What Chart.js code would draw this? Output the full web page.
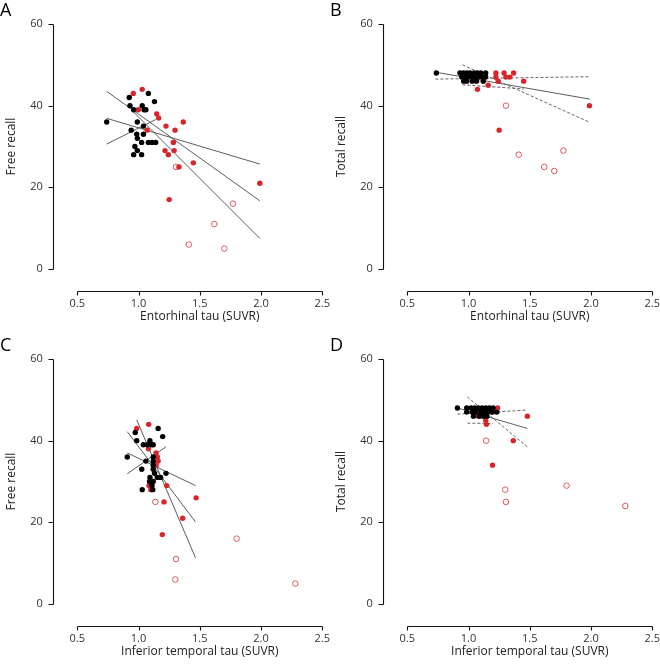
<!DOCTYPE html>
<html>
<head>
<meta charset="utf-8">
<script src="https://cdn.jsdelivr.net/npm/chart.js@4.4.1/dist/chart.umd.min.js"></script>
<style>
  body { margin: 0; background: #fff; }
  #wrap { position: relative; width: 660px; height: 665px; }
  canvas { position: absolute; }
</style>
</head>
<body>
<div id="wrap">
  <canvas id="cA" width="330" height="332" style="left:0;top:0"></canvas>
  <canvas id="cB" width="330" height="332" style="left:330px;top:0"></canvas>
  <canvas id="cC" width="330" height="332" style="left:0;top:335px"></canvas>
  <canvas id="cD" width="330" height="332" style="left:330px;top:335px"></canvas>
</div>
<script>
// 軸の目盛り
const xTicks = [0.5, 1.0, 1.5, 2.0, 2.5];
const yTicks = [0, 20, 40, 60];

// A: Entorhinal tau vs Free recall
const aBlack = [[0.74,36],[0.924,42],[1.08,43],[1.13,41],[0.93,40],[0.96,39],[1.03,40],[1.045,39],[1.06,39],
  [0.99,36],[1.04,35],[0.94,34],[0.985,33],[1.04,33],[0.99,32],[1.025,31],[1.08,31],[1.11,31],[1.14,31],
  [0.97,30],[0.99,29],[0.96,28],[1.025,28]];
const aRed = [[1.03,44],[0.957,43],[0.998,39],[1.148,38],[1.164,37],[1.365,36],[1.224,35],[1.298,34],[1.071,34],
  [1.284,31],[1.216,29],[1.29,29],[1.243,28],[1.447,26],[1.33,25],[1.25,17],[1.99,21]];
const aOpen = [[1.305,25],[1.771,16],[1.618,11],[1.41,6],[1.70,5]];
const aFitAll = [[0.74,43.5],[1.99,16.7]];
const aFitFilled = [[0.74,36.9],[1.99,25.7]];
const aFitRed = [[0.957,38.5],[1.99,7.5]];
const aFitBlack = [[0.74,30.6],[1.14,36.6]];

// B: Entorhinal tau vs Total recall
const bBlack = [[0.737,48],[0.93,48],[0.958,48],[0.985,48],[1.012,48],[1.045,48],[1.072,48],[1.1,48],[1.14,48],
  [0.945,47],[0.995,47],[1.045,47],[1.11,47],[1.14,47],[0.97,47],[1.02,47],[1.08,47],
  [0.985,46],[1.065,46],[1.03,46],[0.96,46],[1.12,46]];
const bRed = [[1.223,48],[1.29,48],[1.368,48],[1.223,47],[1.305,47],[1.337,47],[1.242,46],[1.16,45],
  [1.073,44],[1.45,46],[1.25,34],[1.987,40]];
const bOpen = [[1.305,40],[1.41,28],[1.774,29],[1.618,25],[1.70,24]];
const bFitAll = [[0.73,48.2],[1.99,41.6]];
const bFitFilled = [[0.73,46.5],[1.99,47.1]];
const bFitRed = [[0.95,50.0],[1.99,35.9]];
const bFitRedFilled = [[0.95,45.1],[1.45,44.1]];

// C: Inferior temporal tau vs Free recall
const cBlack = [[1.16,43],[0.973,42],[1.197,41],[0.985,40],[1.093,40],[1.107,39],[1.071,39],[1.039,39],[1.12,39],
  [0.908,36],[1.06,35],[1.026,33],[1.12,36],[1.12,35],[1.12,34],[1.12,33],[1.13,32],[1.224,32],
  [1.093,31],[1.153,31],[1.18,31],[1.09,30],[1.12,30],[1.03,28],[1.116,28],[1.11,29]];
const cRed = [[1.083,44],[0.985,43],[1.08,38],[1.143,37],[1.153,36],[1.16,35],[1.143,34],[1.23,29],
  [1.085,29],[1.47,26],[1.208,25],[1.36,21],[1.194,17],[1.10,28]];
const cOpen = [[1.137,25],[1.80,16],[1.306,11],[1.30,6],[2.28,5]];
const cFitAll = [[0.908,42.2],[1.465,20.1]];
const cFitFilled = [[0.908,37.0],[1.465,29.0]];
const cFitRed = [[0.985,45.1],[1.465,11.3]];
const cFitBlack = [[0.908,31.9],[1.224,38.5]];

// D: Inferior temporal tau vs Total recall
const dBlack = [[0.909,48],[0.985,48],[0.985,47],[1.02,48],[1.05,48],[1.08,48],[1.11,48],[1.14,48],[1.17,48],
  [1.2,48],[1.03,47],[1.06,47],[1.1,47],[1.13,47],[1.16,47],[1.231,47],[1.04,46],[1.09,46],[1.122,46],
  [1.15,46],[1.19,47]];
const dRed = [[1.237,48],[1.078,46],[1.14,45],[1.146,44],[1.365,40],[1.196,34],[1.48,46],[1.2,47]];
const dOpen = [[1.143,40],[1.3,28],[1.305,25],[1.8,29],[2.28,24]];
const dFitAll = [[0.91,48.0],[1.48,43.0]];
const dFitFilled = [[0.91,46.5],[1.48,47.5]];
const dFitRed = [[0.99,50.7],[1.48,38.5]];
const dFitRedFilled = [[0.99,44.3],[1.2,44.2]];

const FONT = "'Open Sans', 'DejaVu Sans', sans-serif";

// R風の離れた軸線
const rAxes = {
  id: 'rAxes',
  afterDraw(chart) {
    const {ctx, chartArea} = chart;
    const x = chart.scales.x, y = chart.scales.y;
    const ax = Math.round(chartArea.left - 24) + 0.5;
    const ay = Math.round(chartArea.bottom + 22) + 0.5;
    ctx.save();
    ctx.strokeStyle = '#111';
    ctx.lineWidth = 1.1;
    ctx.beginPath();
    ctx.moveTo(ax, Math.round(y.getPixelForValue(yTicks[0])) + 0.5);
    ctx.lineTo(ax, Math.round(y.getPixelForValue(yTicks[yTicks.length - 1])) + 0.5);
    yTicks.forEach(v => {
      const p = Math.round(y.getPixelForValue(v)) + 0.5;
      ctx.moveTo(ax, p);
      ctx.lineTo(ax - 5, p);
    });
    ctx.moveTo(Math.round(x.getPixelForValue(xTicks[0])) + 0.5, ay);
    ctx.lineTo(Math.round(x.getPixelForValue(xTicks[xTicks.length - 1])) + 0.5, ay);
    xTicks.forEach(v => {
      const p = Math.round(x.getPixelForValue(v)) + 0.5;
      ctx.moveTo(p, ay);
      ctx.lineTo(p, ay + 4);
    });
    ctx.stroke();
    ctx.restore();
  }
};

const pts = a => a.map(([x, y]) => ({x, y}));

// fits: [データ, 破線?]
function panel(id, letter, xTitle, yTitle, black, red, open, fits) {
  const lines = fits.map(([f, dashed]) => ({
    data: pts(f), showLine: true, pointRadius: 0, borderColor: dashed ? '#555' : '#4a4a4a',
    borderWidth: 0.9, borderDash: dashed ? [3, 2] : [], order: 5
  }));

  new Chart(document.getElementById(id), {
    type: 'scatter',
    data: {
      datasets: lines.concat([
        {data: pts(open), pointRadius: 2.8, borderWidth: 1, borderColor: '#e0575b', backgroundColor: 'rgba(0,0,0,0)', order: 3},
        {data: pts(red), pointRadius: 2.7, borderWidth: 0, backgroundColor: '#d7262b', order: 2},
        {data: pts(black), pointRadius: 2.7, borderWidth: 0, backgroundColor: '#000', order: 1}
      ])
    },
    options: {
      responsive: false,
      animation: false,
      layout: {padding: {left: 0, right: 7.7, top: 0, bottom: 0}},
      plugins: {
        legend: {display: false},
        tooltip: {enabled: false},
        title: {
          display: true, text: letter, align: 'start', color: '#000',
          font: {family: FONT, size: 18, weight: 'normal'},
          padding: {top: 0, bottom: 2.4}
        }
      },
      scales: {
        x: {
          type: 'linear', min: 0.5, max: 2.5,
          grid: {display: false, drawTicks: false},
          border: {display: false},
          afterBuildTicks: s => { s.ticks = xTicks.map(v => ({value: v})); },
          afterFit: s => { s.height = 63; s.paddingLeft = 0; s.paddingRight = 0; },
          ticks: {padding: 28, color: '#333', font: {family: FONT, size: 11},
                  maxRotation: 0, autoSkip: false, callback: v => v.toFixed(1)},
          title: {display: true, text: xTitle, color: '#222', font: {family: FONT, size: 12},
                  padding: {top: 0, bottom: 7.8}}
        },
        y: {
          type: 'linear', min: 0, max: 60,
          grid: {display: false, drawTicks: false},
          border: {display: false},
          afterBuildTicks: s => { s.ticks = yTicks.map(v => ({value: v})); },
          afterFit: s => { s.width = 77.3; s.paddingTop = 0; s.paddingBottom = 0; },
          ticks: {padding: 34.5, color: '#333', font: {family: FONT, size: 11}},
          title: {display: true, text: yTitle, color: '#222', font: {family: FONT, size: 12},
                  padding: {top: 4.8, bottom: 0}}
        }
      }
    },
    plugins: [rAxes]
  });
}

panel('cA', 'A', 'Entorhinal tau (SUVR)', 'Free recall', aBlack, aRed, aOpen,
  [[aFitAll, false], [aFitFilled, false], [aFitRed, false], [aFitBlack, false]]);
panel('cB', 'B', 'Entorhinal tau (SUVR)', 'Total recall', bBlack, bRed, bOpen,
  [[bFitAll, false], [bFitFilled, true], [bFitRed, true], [bFitRedFilled, true]]);
panel('cC', 'C', 'Inferior temporal tau (SUVR)', 'Free recall', cBlack, cRed, cOpen,
  [[cFitAll, false], [cFitFilled, false], [cFitRed, false], [cFitBlack, false]]);
panel('cD', 'D', 'Inferior temporal tau (SUVR)', 'Total recall', dBlack, dRed, dOpen,
  [[dFitAll, false], [dFitFilled, true], [dFitRed, true], [dFitRedFilled, true]]);
</script>
</body>
</html>
